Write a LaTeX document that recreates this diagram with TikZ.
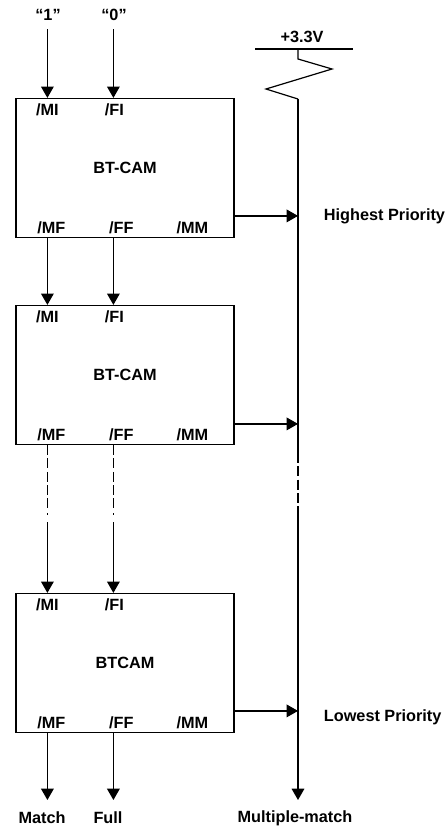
\documentclass[tikz,border=0pt]{standalone}
\usepackage{fontspec}
\setmainfont{Liberation Sans}
\usetikzlibrary{arrows.meta,calc,positioning}

\tikzset{
  cam/.style={draw,minimum width=163.5pt,minimum height=104.25pt,inner sep=0pt},
  sig/.style={-{Triangle[length=8.5pt,width=9.5pt]}},
  txt/.style={font=\fontsize{12.2}{14}\selectfont\bfseries,inner sep=1pt},
  broken/.style={dash pattern=on 7.5pt off 2.5pt}
}

\begin{document}
\begin{tikzpicture}[x=0.75pt,y=-0.75pt,line width=0.9pt]
            \useasboundingbox (0,0) rectangle (448,829);

            % the three CAM blocks
            \node[cam] (cam1) at (125,168) {};
            \node[cam] (cam2) at (125,375) {};
            \node[cam] (cam3) at (125,663) {};
            \node[txt] (name1) at (cam1) {BT-CAM};
            \node[txt] (name2) at (cam2) {BT-CAM};
            \node[txt] (name3) at (cam3) {BTCAM};

            % port labels
            \node[txt] (mil1) at ($(cam1.north west)+(32,12)$) {/MI};
            \node[txt] (fil1) at ($(cam1.north west)+(99,12)$) {/FI};
            \node[txt] (mfl1) at ($(cam1.south west)+(36,-10)$) {/MF};
            \node[txt] (ffl1) at ($(cam1.south west)+(106,-10)$) {/FF};
            \node[txt] (mml1) at ($(cam1.south west)+(177,-10)$) {/MM};
            \node[txt] (mil2) at ($(cam2.north west)+(32,12)$) {/MI};
            \node[txt] (fil2) at ($(cam2.north west)+(99,12)$) {/FI};
            \node[txt] (mfl2) at ($(cam2.south west)+(36,-10)$) {/MF};
            \node[txt] (ffl2) at ($(cam2.south west)+(106,-10)$) {/FF};
            \node[txt] (mml2) at ($(cam2.south west)+(177,-10)$) {/MM};
            \node[txt] (mil3) at ($(cam3.north west)+(32,12)$) {/MI};
            \node[txt] (fil3) at ($(cam3.north west)+(99,12)$) {/FI};
            \node[txt] (mfl3) at ($(cam3.south west)+(36,-10)$) {/MF};
            \node[txt] (ffl3) at ($(cam3.south west)+(106,-10)$) {/FF};
            \node[txt] (mml3) at ($(cam3.south west)+(177,-10)$) {/MM};

            % pins
            \coordinate (mi1) at ($(cam1.north west)+(32,0)$);
            \coordinate (fi1) at ($(cam1.north west)+(98,0)$);
            \coordinate (mf1) at ($(cam1.south west)+(32,0)$);
            \coordinate (ff1) at ($(cam1.south west)+(98,0)$);
            \coordinate (mm1) at ($(cam1.north east)+(0,118)$);
            \coordinate (mi2) at ($(cam2.north west)+(32,0)$);
            \coordinate (fi2) at ($(cam2.north west)+(98,0)$);
            \coordinate (mf2) at ($(cam2.south west)+(32,0)$);
            \coordinate (ff2) at ($(cam2.south west)+(98,0)$);
            \coordinate (mm2) at ($(cam2.north east)+(0,119)$);
            \coordinate (mi3) at ($(cam3.north west)+(32,0)$);
            \coordinate (fi3) at ($(cam3.north west)+(98,0)$);
            \coordinate (mf3) at ($(cam3.south west)+(32,0)$);
            \coordinate (ff3) at ($(cam3.south west)+(98,0)$);
            \coordinate (mm3) at ($(cam3.north east)+(0,118)$);

            % inputs
            \node[txt] (one) at (48,15) {“1”};
            \node[txt] (zero) at (114,15) {“0”};
            \coordinate (intop) at (0,29);
            \draw[sig] (mi1 |- intop) -- (mi1);
            \draw[sig] (fi1 |- intop) -- (fi1);

            % cascade
            \draw[sig] (mf1) -- (mi2);
            \draw[sig] (ff1) -- (fi2);
            \coordinate (brk) at (0,511);
            \coordinate (dot) at (0,513);
            \coordinate (resume) at (0,522);
            \draw[broken] (mf2) -- (mf2 |- brk);
            \draw[broken] (ff2) -- (ff2 |- brk);
            \draw (mf2 |- dot) -- ++(0,2);
            \draw (ff2 |- dot) -- ++(0,2);
            \draw[sig] (mi3 |- resume) -- (mi3);
            \draw[sig] (fi3 |- resume) -- (fi3);

            % pull-up and multiple-match line
            \node[txt] (vdd) at (302,37) {+3.3V};
            \coordinate (rail) at (298,49);
            \coordinate (bus) at (298,99);
            \coordinate (busa) at (298,453);
            \coordinate (busb) at (298,512);
            \coordinate (outy) at (0,800);
            \draw (rail -| 255,0) -- (rail -| 353,0);
            \draw (rail) -- ++(0,10) -- (332,69) -- (266,89) -- (bus);
            \draw (bus) -- (busa);
            \draw[broken] (busa) -- (busb);
            \draw[sig] (busb) -- (bus |- outy);

            \draw[sig] (mm1) -- (mm1 -| bus);
            \draw[sig] (mm2) -- (mm2 -| bus);
            \draw[sig] (mm3) -- (mm3 -| bus);
            \node[txt,anchor=west] (high) at (322,216) {Highest Priority};
            \node[txt,anchor=west] (low) at (322,717) {Lowest Priority};

            % outputs
            \draw[sig] (mf3) -- (mf3 |- outy);
            \draw[sig] (ff3) -- (ff3 |- outy);
            \node[txt] (match) at (42,818) {Match};
            \node[txt] (full) at (108,818) {Full};
            \node[txt] (multi) at (295,818) {Multiple-match};
        \end{tikzpicture}
\end{document}
